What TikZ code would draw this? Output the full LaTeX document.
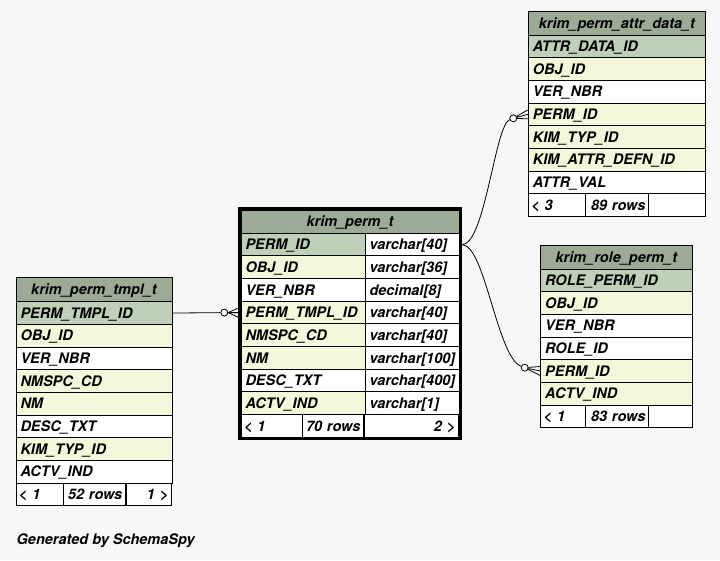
\documentclass[tikz,border=0pt]{standalone}
\usepackage{fontspec}
\setmainfont{TeX Gyre Heros}
\usetikzlibrary{positioning,fit}
\definecolor{bgcol}{HTML}{F7F7F7}
\definecolor{headcol}{HTML}{9BAB96}
\definecolor{pkcol}{HTML}{BED1B8}
\definecolor{idxcol}{HTML}{F4F7DA}
\definecolor{plaincol}{HTML}{FFFFFF}

\begin{document}
\begin{tikzpicture}[x=1pt,y=-1pt,
  font=\fontsize{14.5}{17}\selectfont\bfseries\itshape,
  cell/.style={draw=black, line width=1pt, fill=#1col, inner xsep=4.5pt, inner ysep=0pt,
    minimum height=22.67pt, text height=10.4pt, text depth=0pt, align=left},
  head/.style={cell=head, align=center, minimum height=23.3pt},
  foot/.style={cell=plain, inner xsep=3pt},
  footr/.style={cell=plain, inner xsep=3pt, align=right},
  frame/.style={draw=black, line width=3pt, inner sep=1pt},
  link/.style={draw=black, line width=0.8pt},
  odot/.style={circle, draw=black, line width=0.8pt, fill=bgcol, minimum size=7pt, inner sep=0pt}]
\fill[bgcol] (0,0) rectangle (720,560);
\useasboundingbox (0,0) rectangle (720,560);

% krim_perm_tmpl_t
\node[head, text width=147pt, minimum height=24.4pt] (tmpl) at (94,289.5) {krim\_perm\_tmpl\_t};
\foreach \col/\kind [count=\i] in {PERM\_TMPL\_ID/pk, OBJ\_ID/idx, VER\_NBR/plain, NMSPC\_CD/idx,
    NM/idx, DESC\_TXT/plain, KIM\_TYP\_ID/idx, ACTV\_IND/plain}
  \node[cell=\kind, text width=147pt] (tmpl-\i) at (94,{301.7+(\i-0.5)*22.67}) {\col};
\node[foot, text width=41.3pt] (tmplfoot-1) at (39.65,494.4) {< 1};
\node[footr, text width=56pt] (tmplfoot-2) at (94.3,494.4) {52 rows};
\node[footr, text width=39.2pt] (tmplfoot-3) at (148.65,494.4) {1 >};

% krim_perm_t
\node[head, text width=209pt] (perm) at (350,221.65) {krim\_perm\_t};
\foreach \col/\kind/\type [count=\i] in {PERM\_ID/pk/varchar[40], OBJ\_ID/idx/varchar[36],
    VER\_NBR/plain/decimal[8], PERM\_TMPL\_ID/idx/varchar[40], NMSPC\_CD/idx/varchar[40],
    NM/idx/varchar[100], DESC\_TXT/plain/varchar[400], ACTV\_IND/idx/varchar[1]}
{
  \node[cell=\kind, text width=115pt] (perm-\i) at (303,{233.3+(\i-0.5)*22.67}) {\col};
  \node[cell=plain, text width=85pt] (permtype-\i) at (412,{233.3+(\i-0.5)*22.67}) {\type};
}
\node[foot, text width=55.7pt] (permfoot-1) at (271.85,426) {< 1};
\node[footr, text width=54.6pt] (permfoot-2) at (333,426) {70 rows};
\node[footr, text width=88.2pt] (permfoot-3) at (411.15,426) {2 >};
\node[frame, fit=(perm)(permfoot-1)(permfoot-3)] (permframe) {};

% krim_perm_attr_data_t
\node[head, text width=168.2pt] (attr) at (616.9,23.35) {krim\_perm\_attr\_data\_t};
\foreach \col/\kind [count=\i] in {ATTR\_DATA\_ID/pk, OBJ\_ID/idx, VER\_NBR/plain, PERM\_ID/idx,
    KIM\_TYP\_ID/idx, KIM\_ATTR\_DEFN\_ID/idx, ATTR\_VAL/plain}
  \node[cell=\kind, text width=168.2pt] (attr-\i) at (616.9,{35+(\i-0.5)*22.67}) {\col};
\node[foot, text width=50.7pt] (attrfoot-1) at (556.65,205) {< 3};
\node[footr, text width=57.3pt] (attrfoot-2) at (616.65,205) {89 rows};
\node[footr, text width=51.2pt] (attrfoot-3) at (676.9,205) {};

% krim_role_perm_t
\node[head, text width=142.3pt] (role) at (616.35,257.35) {krim\_role\_perm\_t};
\foreach \col/\kind [count=\i] in {ROLE\_PERM\_ID/pk, OBJ\_ID/idx, VER\_NBR/plain, ROLE\_ID/plain,
    PERM\_ID/idx, ACTV\_IND/idx}
  \node[cell=\kind, text width=142.3pt] (role-\i) at (616.35,{269+(\i-0.5)*22.67}) {\col};
\node[foot, text width=39pt] (rolefoot-1) at (563.2,416.4) {< 1};
\node[footr, text width=56.6pt] (rolefoot-2) at (617,416.4) {83 rows};
\node[footr, text width=37.7pt] (rolefoot-3) at (670.15,416.4) {};

% relations
\coordinate (tmplend) at (permframe.west |- perm-4);
\coordinate (permstart) at (permframe.east |- permtype-1);
\node[odot] (tmpldot) at (224.3,312.6) {};
\node[odot] (attrdot) at (513.3,118.3) {};
\node[odot] (roledot) at (524.7,367.7) {};

\draw[link] (tmpl-1.east) -- (tmpldot);
\draw[link] ([yshift=4.5pt]tmplend) -- (tmpldot.east) -- ([yshift=-4.5pt]tmplend)
  (tmpldot.east) -- (tmplend);

\draw[link] (permstart) .. controls (485,244.7) and (495,125) .. (attrdot);
\draw[link] (attr-4.west) -- (attrdot) ([yshift=4.5pt]attr-4.west) -- (attrdot)
  ([yshift=-4.5pt]attr-4.west) -- (attrdot);

\draw[link] (permstart) .. controls (485,244.7) and (497,357) .. (roledot);
\draw[link] (role-5.west) -- (roledot) ([yshift=4.5pt]role-5.west) -- (roledot)
  ([yshift=-4.5pt]role-5.west) -- (roledot);

\node[anchor=base west, inner sep=0pt] (credit) at (16.5,544.5) {Generated by SchemaSpy};
\end{tikzpicture}
\end{document}
